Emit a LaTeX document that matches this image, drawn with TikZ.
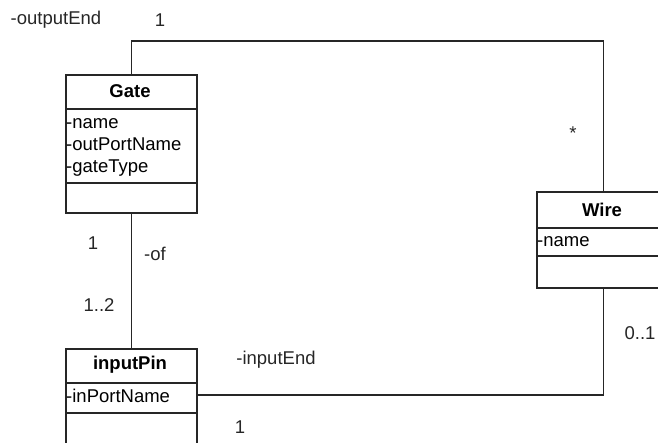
\documentclass[tikz,border=0pt]{standalone}
\usepackage{fontspec}
\setmainfont{Liberation Sans}
\usetikzlibrary{positioning}
\tikzset{
    class_box/.style={
        draw=black!85,        % border colour
        line width=1.8pt,     % border width
        fill=white,
        minimum width=131pt,  % class box width
        inner sep=0pt
    },
    class_title/.style={
        font=\bfseries\fontsize{18.5}{22}\selectfont,
        inner sep=0pt
    },
    attr_text/.style={
        anchor=base west,
        font=\fontsize{18.5}{22}\selectfont,
        inner sep=0pt
    },
    role_label/.style={
        font=\fontsize{18.5}{22}\selectfont,
        text=black!85,
        inner sep=0pt
    },
    link_line/.style={
        draw=black!85,
        line width=1.8pt
    }
}

\begin{document}
\begin{tikzpicture}[x=1pt, y=-1pt]
    \useasboundingbox (0,0) rectangle (658,443);

    % 1. class boxes
    \node[class_box, minimum height=138pt, anchor=north west] (gate) at (65,74) {};
    \node[class_box, minimum width=133pt, minimum height=96pt, anchor=north west] (wire) at (536,191) {};
    \node[class_box, minimum height=110pt, anchor=north west] (pin) at (65,348) {};

    % compartments
    \draw[link_line] (gate.west |- 0,109) -- (gate.east |- 0,109);
    \draw[link_line] (gate.west |- 0,183) -- (gate.east |- 0,183);
    \draw[link_line] (wire.west |- 0,228) -- (wire.east |- 0,228);
    \draw[link_line] (wire.west |- 0,256) -- (wire.east |- 0,256);
    \draw[link_line] (pin.west |- 0,383) -- (pin.east |- 0,383);
    \draw[link_line] (pin.west |- 0,413) -- (pin.east |- 0,413);

    % 2. class texts
    \node[class_title] (gatetitle) at (130,91) {Gate};
    \node[attr_text] (gatename) at (66,129) {-name};
    \node[attr_text] (gateport) at (66,151) {-outPortName};
    \node[attr_text] (gatetype) at (66,173) {-gateType};

    \node[class_title] (wiretitle) at (602,210) {Wire};
    \node[attr_text] (wirename) at (537,247) {-name};

    \node[class_title] (pintitle) at (130,365) {inputPin};
    \node[attr_text] (pinport) at (66,402) {-inPortName};

    % 3. associations
    \draw[link_line] (gate.north) -- ++(0,-33) -| (wire.north);
    \draw[link_line] (gate.south) -- (pin.north);
    \draw[link_line] (pin.east |- 0,395) -| (wire.south);

    % 4. role names and multiplicities
    \node[role_label] (outend) at (56,20) {-outputEnd};
    \node[role_label] (outmult) at (160,20) {1};
    \node[role_label] (wiremult) at (573,133) {*};
    \node[role_label] (gatemult) at (93,243) {1};
    \node[role_label] (ofrole) at (155,254) {-of};
    \node[role_label] (pinmult) at (99,305) {1..2};
    \node[role_label] (inend) at (276,360) {-inputEnd};
    \node[role_label] (inmult) at (240,427) {1};
    \node[role_label] (wiremult2) at (640,333) {0..1};
\end{tikzpicture}
\end{document}
